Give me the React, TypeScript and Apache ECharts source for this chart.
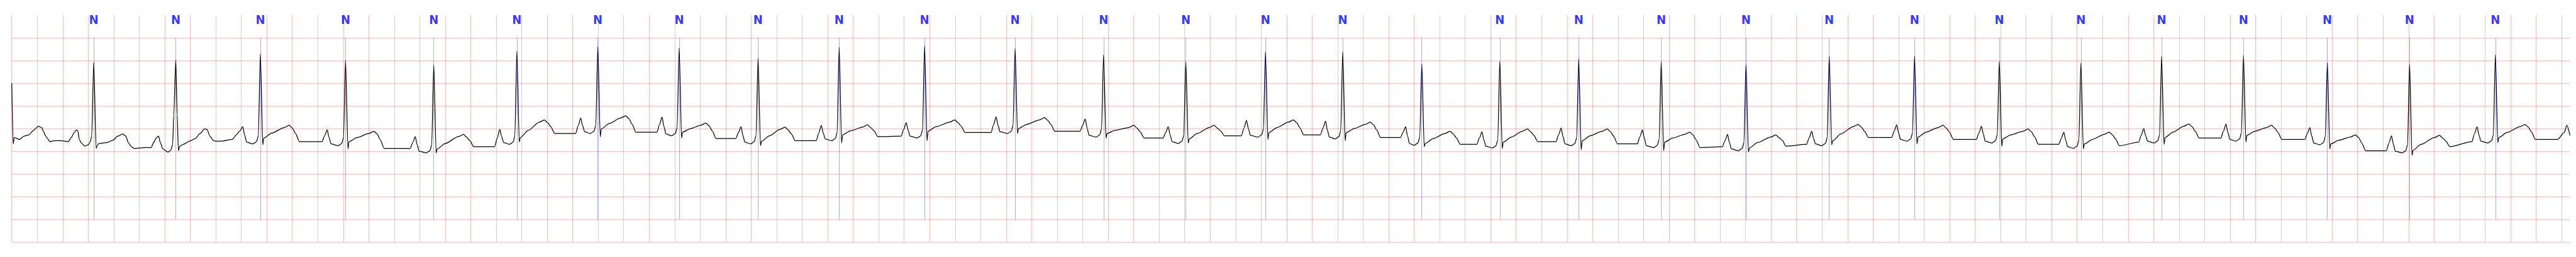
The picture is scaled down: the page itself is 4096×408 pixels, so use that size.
import React, { useEffect, useRef } from "react";
import * as echarts from "echarts";

// Axis ranges (seconds, mV) and ECG paper grid
const TIME_MAX = 20.066;
const GRID_STEP_X = 0.2;
const GRID_STEP_Y = 0.5;
const Y_MIN = -2.0;
const Y_MAX = 3.0;
const MARK_TOP = 2.5;
const MARK_BOTTOM = -1.5;
const LABEL_LEVEL = 2.9;

// Beat annotations (R-peak times, s) and their labels
const beatTimes = [
  0.643, 1.2865, 1.95, 2.618, 3.31, 3.962, 4.597, 5.235, 5.854, 6.49,
  7.16, 7.87, 8.564, 9.209, 9.834, 10.44, 11.06, 11.672, 12.291, 12.938,
  13.603, 14.256, 14.925, 15.59, 16.23, 16.863, 17.505, 18.163, 18.808, 19.481,
];
const beatLabels = [
  "N", "N", "N", "N", "N", "N", "N", "N", "N", "N",
  "N", "N", "N", "N", "N", "N", "", "N", "N", "N",
  "N", "N", "N", "N", "N", "N", "N", "N", "N", "N",
];

// ECG trace [time s, amplitude mV], read from the strip
const traceSeg1: [number, number][] = [
  [0, 1.5], [0.011, 0.16], [0.02, 0.3], [0.061, 0.26], [0.096, 0.33], [0.133, 0.36], [0.168, 0.45],
  [0.187, 0.5], [0.208, 0.55], [0.235, 0.52], [0.248, 0.44], [0.267, 0.33], [0.286, 0.26], [0.299, 0.21],
  [0.337, 0.23], [0.385, 0.23], [0.444, 0.21], [0.466, 0.3], [0.49, 0.41], [0.503, 0.46], [0.517, 0.46],
  [0.53, 0.26], [0.546, 0.18], [0.573, 0.11], [0.6, 0.14], [0.616, 0.21], [0.627, 0.33], [0.643, 1.96],
  [0.662, 0.06], [0.67, 0.12], [0.683, 0.17], [0.746, 0.19], [0.793, 0.24], [0.831, 0.33], [0.871, 0.38],
  [0.895, 0.33], [0.914, 0.19], [0.938, 0.1], [0.962, 0.06], [1.046, 0.08], [1.094, 0.08], [1.112, 0.19],
  [1.136, 0.3], [1.151, 0.33], [1.166, 0.19], [1.183, 0.06], [1.201, 0.02], [1.225, -0.02], [1.247, 0.02],
  [1.262, 0.15], [1.271, 0.8], [1.2865, 2.01], [1.2975, 0.8], [1.307, 0.01], [1.319, 0.11], [1.345, 0.15],
  [1.393, 0.22], [1.441, 0.28], [1.477, 0.39], [1.512, 0.49], [1.531, 0.48], [1.555, 0.33], [1.579, 0.24],
  [1.597, 0.22], [1.644, 0.22], [1.729, 0.26], [1.765, 0.37], [1.786, 0.44],
  [1.812, 0.54], [1.827, 0.35], [1.842, 0.2], [1.891, 0.16], [1.92, 0.21], [1.934, 0.34], [1.95, 2.14],
  [1.969, 0.14], [1.977, 0.29], [2.04, 0.4], [2.136, 0.52], [2.176, 0.57], [2.201, 0.51], [2.226, 0.39],
  [2.256, 0.21],
];

const traceSeg2: [number, number][] = [
  [2.434, 0.21], [2.454, 0.34], [2.474, 0.47], [2.489, 0.3], [2.504, 0.16], [2.559, 0.12], [2.588, 0.17],
  [2.602, 0.3], [2.618, 2.0], [2.637, 0.05], [2.645, 0.21], [2.708, 0.3], [2.801, 0.39], [2.841, 0.44],
  [2.866, 0.38], [2.891, 0.25], [2.921, 0.06],
  [3.125, 0.06], [3.145, 0.19], [3.165, 0.32], [3.18, 0.14], [3.195, 0.0], [3.251, -0.04], [3.28, 0.01],
  [3.294, 0.14], [3.31, 1.9], [3.329, -0.04], [3.337, 0.05], [3.4, 0.17], [3.503, 0.32], [3.543, 0.37],
  [3.568, 0.31], [3.593, 0.23], [3.623, 0.1],
  [3.788, 0.1], [3.808, 0.29], [3.828, 0.48], [3.843, 0.32], [3.858, 0.19], [3.903, 0.15], [3.932, 0.2],
  [3.946, 0.33], [3.962, 2.2], [3.981, 0.2], [3.989, 0.3], [4.052, 0.46], [4.138, 0.64], [4.178, 0.69],
  [4.203, 0.63], [4.228, 0.54], [4.258, 0.39],
  [4.423, 0.39], [4.443, 0.56], [4.463, 0.73], [4.478, 0.56], [4.493, 0.43], [4.538, 0.39], [4.567, 0.44],
  [4.581, 0.57], [4.597, 2.3], [4.616, 0.32], [4.624, 0.49], [4.687, 0.61], [4.775, 0.73], [4.815, 0.78],
  [4.84, 0.72], [4.865, 0.6], [4.895, 0.42],
  [5.061, 0.42], [5.081, 0.59], [5.101, 0.75], [5.116, 0.54], [5.131, 0.38], [5.176, 0.34], [5.205, 0.39],
  [5.219, 0.52], [5.235, 2.27], [5.254, 0.29], [5.262, 0.42], [5.325, 0.5], [5.404, 0.57], [5.444, 0.62],
  [5.469, 0.56], [5.494, 0.45], [5.524, 0.28],
  [5.68, 0.28], [5.7, 0.41], [5.72, 0.54], [5.735, 0.35], [5.75, 0.2], [5.795, 0.16], [5.824, 0.21],
  [5.838, 0.34], [5.854, 2.05], [5.873, 0.12], [5.881, 0.22], [5.944, 0.34], [6.025, 0.48], [6.065, 0.53],
  [6.09, 0.47], [6.115, 0.38], [6.145, 0.23],
];

const traceSeg3: [number, number][] = [
  [6.31, 0.23], [6.33, 0.4], [6.35, 0.57], [6.365, 0.4], [6.38, 0.27], [6.431, 0.23], [6.46, 0.28],
  [6.474, 0.41], [6.49, 2.29], [6.509, 0.18], [6.517, 0.36], [6.58, 0.45], [6.673, 0.53], [6.713, 0.58],
  [6.738, 0.52], [6.763, 0.45], [6.793, 0.32],
  [6.976, 0.33], [6.996, 0.48], [7.016, 0.63], [7.031, 0.46], [7.046, 0.33], [7.101, 0.29], [7.13, 0.34],
  [7.144, 0.47], [7.16, 2.32], [7.179, 0.23], [7.187, 0.44], [7.25, 0.54], [7.357, 0.64], [7.397, 0.69],
  [7.422, 0.63], [7.447, 0.55], [7.477, 0.41],
  [7.681, 0.41], [7.701, 0.58], [7.721, 0.76], [7.736, 0.57], [7.751, 0.43], [7.811, 0.39], [7.84, 0.44],
  [7.854, 0.57], [7.87, 2.26], [7.889, 0.39], [7.897, 0.5], [7.96, 0.59], [8.061, 0.69], [8.101, 0.74],
  [8.126, 0.68], [8.151, 0.59], [8.181, 0.44],
  [8.38, 0.44], [8.4, 0.57], [8.42, 0.71], [8.435, 0.51], [8.45, 0.35], [8.505, 0.31], [8.534, 0.36],
  [8.548, 0.49], [8.564, 2.12], [8.583, 0.29], [8.591, 0.39], [8.654, 0.46], [8.761, 0.52], [8.801, 0.57],
  [8.826, 0.51], [8.851, 0.43], [8.881, 0.29],
  [9.031, 0.29], [9.051, 0.41], [9.071, 0.54], [9.086, 0.36], [9.101, 0.21], [9.15, 0.17], [9.179, 0.22],
  [9.193, 0.35], [9.209, 1.97], [9.228, 0.18], [9.236, 0.27], [9.299, 0.39], [9.391, 0.52], [9.431, 0.57],
  [9.456, 0.51], [9.481, 0.45], [9.511, 0.34],
  [9.645, 0.34], [9.665, 0.51], [9.685, 0.68], [9.7, 0.5], [9.715, 0.35], [9.775, 0.31], [9.804, 0.36],
  [9.818, 0.49], [9.834, 2.19], [9.853, 0.26], [9.861, 0.41], [9.924, 0.52], [10.013, 0.64], [10.053, 0.69],
  [10.078, 0.63], [10.103, 0.52], [10.133, 0.36],
  [10.265, 0.36], [10.285, 0.51], [10.305, 0.66], [10.32, 0.46], [10.335, 0.31], [10.381, 0.27], [10.41, 0.32],
  [10.424, 0.45], [10.44, 2.19], [10.459, 0.23], [10.467, 0.41], [10.53, 0.5], [10.616, 0.59], [10.656, 0.64],
  [10.681, 0.58], [10.706, 0.47], [10.736, 0.3],
  [10.893, 0.3], [10.913, 0.42], [10.933, 0.54], [10.948, 0.34], [10.963, 0.17], [11.001, 0.13], [11.03, 0.18],
  [11.044, 0.31], [11.06, 1.92], [11.079, 0.1], [11.087, 0.17], [11.15, 0.28], [11.242, 0.39], [11.282, 0.44],
  [11.307, 0.38], [11.332, 0.29], [11.362, 0.15],
];

const traceSeg4: [number, number][] = [
  [11.492, 0.15], [11.512, 0.29], [11.532, 0.43], [11.547, 0.25], [11.562, 0.11], [11.613, 0.07], [11.642, 0.12],
  [11.656, 0.25], [11.672, 1.98], [11.691, 0.06], [11.699, 0.2], [11.762, 0.31], [11.849, 0.44], [11.889, 0.49],
  [11.914, 0.43], [11.939, 0.35], [11.969, 0.21],
  [12.113, 0.21], [12.133, 0.36], [12.153, 0.51], [12.168, 0.32], [12.183, 0.16], [12.232, 0.12], [12.261, 0.17],
  [12.275, 0.3], [12.291, 2.04], [12.31, 0.03], [12.318, 0.23], [12.381, 0.34], [12.475, 0.44], [12.515, 0.49],
  [12.54, 0.43], [12.565, 0.33], [12.595, 0.16],
  [12.751, 0.16], [12.771, 0.32], [12.791, 0.47], [12.806, 0.28], [12.821, 0.12], [12.879, 0.08], [12.908, 0.13],
  [12.922, 0.26], [12.938, 1.97], [12.957, 0.01], [12.965, 0.2], [13.028, 0.29], [13.122, 0.37], [13.162, 0.42],
  [13.187, 0.36], [13.212, 0.25], [13.242, 0.08],
  [13.418, 0.1], [13.438, 0.23], [13.458, 0.37], [13.473, 0.19], [13.488, 0.05], [13.544, 0.01], [13.573, 0.06],
  [13.587, 0.19], [13.603, 1.9], [13.622, -0.02], [13.63, 0.07], [13.693, 0.19], [13.797, 0.31], [13.837, 0.36],
  [13.862, 0.3], [13.887, 0.24], [13.917, 0.11],
  [14.078, 0.15], [14.098, 0.29], [14.118, 0.44], [14.133, 0.28], [14.148, 0.16], [14.197, 0.12], [14.226, 0.17],
  [14.24, 0.3], [14.256, 2.09], [14.275, 0.14], [14.283, 0.23], [14.346, 0.38], [14.443, 0.54], [14.483, 0.59],
  [14.508, 0.53], [14.533, 0.44], [14.563, 0.3],
  [14.745, 0.3], [14.765, 0.44], [14.785, 0.58], [14.8, 0.4], [14.815, 0.26], [14.866, 0.22], [14.895, 0.27],
  [14.909, 0.4], [14.925, 2.1], [14.944, 0.16], [14.952, 0.31], [15.015, 0.42], [15.109, 0.52], [15.149, 0.57],
  [15.174, 0.51], [15.199, 0.42], [15.229, 0.26],
  [15.41, 0.26], [15.43, 0.4], [15.45, 0.55], [15.465, 0.37], [15.48, 0.22], [15.531, 0.18], [15.56, 0.23],
  [15.574, 0.36], [15.59, 1.98], [15.609, 0.11], [15.617, 0.27], [15.68, 0.36], [15.776, 0.44], [15.816, 0.49],
  [15.841, 0.43], [15.866, 0.32], [15.896, 0.15],
];

const traceSeg5: [number, number][] = [
  [16.056, 0.15], [16.076, 0.28], [16.096, 0.42], [16.111, 0.24], [16.126, 0.1], [16.171, 0.06], [16.2, 0.11],
  [16.214, 0.24], [16.23, 1.94], [16.249, 0.05], [16.257, 0.16], [16.32, 0.26], [16.412, 0.37], [16.452, 0.42],
  [16.477, 0.36], [16.502, 0.27], [16.532, 0.12],
  [16.683, 0.2], [16.703, 0.35], [16.723, 0.5], [16.738, 0.34], [16.753, 0.22], [16.804, 0.18], [16.833, 0.23],
  [16.847, 0.36], [16.863, 2.09], [16.882, 0.15], [16.89, 0.3], [16.953, 0.42], [17.037, 0.55], [17.077, 0.6],
  [17.102, 0.54], [17.127, 0.44], [17.157, 0.29],
  [17.328, 0.29], [17.348, 0.44], [17.368, 0.6], [17.383, 0.41], [17.398, 0.26], [17.446, 0.22], [17.475, 0.27],
  [17.489, 0.4], [17.505, 2.11], [17.524, 0.2], [17.532, 0.35], [17.595, 0.44], [17.685, 0.52], [17.725, 0.57],
  [17.75, 0.51], [17.775, 0.42], [17.805, 0.26],
  [17.986, 0.26], [18.006, 0.39], [18.026, 0.52], [18.041, 0.33], [18.056, 0.18], [18.104, 0.14], [18.133, 0.19],
  [18.147, 0.32], [18.163, 1.95], [18.182, 0.05], [18.19, 0.16], [18.253, 0.24], [18.343, 0.31], [18.383, 0.36],
  [18.408, 0.3], [18.433, 0.18], [18.463, 0.01],
  [18.626, 0.01], [18.646, 0.18], [18.666, 0.34], [18.681, 0.15], [18.696, 0.0], [18.749, -0.04], [18.778, 0.01],
  [18.792, 0.14], [18.808, 1.91], [18.827, -0.09], [18.835, 0.02], [18.898, 0.15], [19.003, 0.3], [19.043, 0.35],
  [19.068, 0.29], [19.093, 0.22], [19.123, 0.1],
  [19.297, 0.21], [19.317, 0.38], [19.337, 0.54], [19.352, 0.36], [19.367, 0.22], [19.422, 0.18], [19.451, 0.23],
  [19.465, 0.36], [19.481, 2.12], [19.5, 0.19], [19.508, 0.3], [19.571, 0.41], [19.674, 0.54], [19.714, 0.59],
  [19.739, 0.53], [19.764, 0.43], [19.794, 0.26],
  [19.969, 0.26], [20.021, 0.41], [20.041, 0.57], [20.066, 0.35],
];

const trace = [...traceSeg1, ...traceSeg2, ...traceSeg3, ...traceSeg4, ...traceSeg5];

const GRID_COLOR = "rgba(255,0,0,0.25)";

export default function App() {
  const ref = useRef<HTMLDivElement>(null);

  useEffect(() => {
    if (!ref.current) return;
    const chart = echarts.init(ref.current, null, { renderer: "svg" });
    const labelData = beatTimes
      .map((t, i) => ({ value: [t, LABEL_LEVEL], name: beatLabels[i] }))
      .filter((d) => d.name !== "");
    chart.setOption({
      animation: false,
      backgroundColor: "#ffffff",
      grid: { left: 18.7, right: 9.6, top: 23.94, bottom: 23.94, containLabel: false },
      xAxis: {
        type: "value",
        min: 0,
        max: TIME_MAX,
        interval: GRID_STEP_X,
        axisLine: { show: false },
        axisTick: { show: false },
        axisLabel: { show: false },
        splitLine: {
          show: true,
          showMinLine: true,
          showMaxLine: false,
          lineStyle: { color: GRID_COLOR, width: 1.1 },
        },
      },
      yAxis: {
        type: "value",
        min: Y_MIN,
        max: Y_MAX,
        interval: GRID_STEP_Y,
        axisLine: { show: false },
        axisTick: { show: false },
        axisLabel: { show: false },
        splitLine: {
          show: true,
          showMinLine: true,
          showMaxLine: false,
          lineStyle: { color: GRID_COLOR, width: 1.1 },
        },
      },
      series: [
        {
          type: "line",
          data: trace,
          showSymbol: false,
          symbol: "none",
          silent: true,
          smooth: 0.25,
          smoothMonotone: "x",
          z: 3,
          lineStyle: { color: "#000000", width: 1.25 },
          markLine: {
            silent: true,
            symbol: ["none", "none"],
            label: { show: false },
            lineStyle: { color: "rgba(0,0,255,0.55)", width: 0.6, type: "solid" },
            data: beatTimes.map((t) => [
              { coord: [t, MARK_TOP] },
              { coord: [t, MARK_BOTTOM] },
            ]),
          },
        },
        {
          type: "scatter",
          data: labelData,
          symbolSize: 1,
          silent: true,
          itemStyle: { color: "transparent" },
          label: {
            show: true,
            position: "inside",
            formatter: (p: any) => p.name,
            color: "#0000ff",
            fontSize: 20,
            fontWeight: "bold",
            fontFamily: "'Liberation Sans Narrow', 'DejaVu Sans Condensed', 'Liberation Sans', sans-serif",
          },
        },
      ],
    });
    return () => chart.dispose();
  }, []);

  return (
    <div
      ref={ref}
      style={{ position: "fixed", left: 0, top: 0, width: 4096, height: 408, background: "#fff" }}
    />
  );
}
